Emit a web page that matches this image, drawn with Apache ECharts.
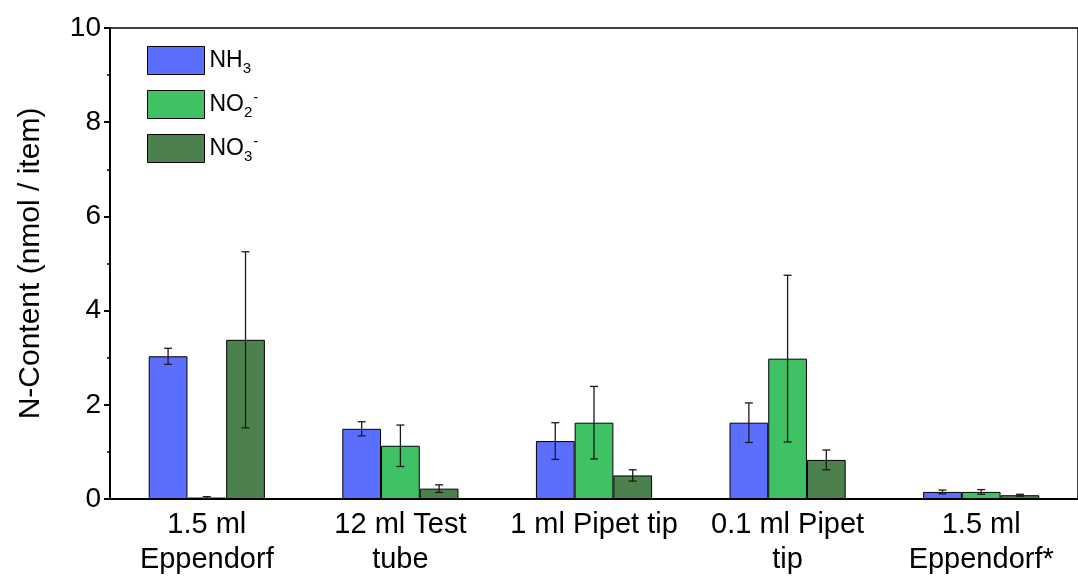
<!DOCTYPE html>
<html><head><meta charset="utf-8">
<script src="https://cdn.jsdelivr.net/npm/echarts@6/dist/echarts.min.js"></script>
<style>html,body{margin:0;padding:0;background:#fff}#c{width:1078px;height:577px}</style>
</head><body><div id="c"></div>
<script>
const categories = ['1.5 ml\nEppendorf', '12 ml Test\ntube', '1 ml Pipet tip', '0.1 ml Pipet\ntip', '1.5 ml\nEppendorf*'];
const nh3 = [3.03, 1.49, 1.23, 1.62, 0.15];
const no2 = [0.03, 1.13, 1.62, 2.98, 0.15];
const no3 = [3.38, 0.22, 0.50, 0.83, 0.08];
const nh3Err = [0.17, 0.15, 0.39, 0.42, 0.04];
const no2Err = [0.02, 0.44, 0.77, 1.77, 0.05];
const no3Err = [1.87, 0.08, 0.12, 0.21, 0.02];
const yTicks = [0, 2, 4, 6, 8, 10];

const names = ['NH3', 'NO2-', 'NO3-'];
const colors = ['#5b6efe', '#3ec263', '#4c804c'];
const values = [nh3, no2, no3];
const errs = [nh3Err, no2Err, no3Err];
const FONT = 'Liberation Sans, Arial, sans-serif';
const GAP = 0.4;

const series = [];
names.forEach((n, k) => {
  series.push({
    name: n, type: 'bar', data: values[k], barGap: '0%', barCategoryGap: '40%',
    itemStyle: { color: colors[k], borderColor: '#000', borderWidth: 1 }
  });
});
names.forEach((n, k) => {
  series.push({
    type: 'custom', silent: true, z: 10,
    data: values[k].map((v, i) => [i, v, errs[k][i]]),
    encode: { x: 0, y: 1 },
    renderItem: function (params, api) {
      const i = api.value(0), v = api.value(1), e = api.value(2);
      const band = api.size([1, 0])[0];
      const bw = band * (1 - GAP) / 3;
      const c = api.coord([i, v]);
      const x = c[0] + (k - 1) * bw;
      const yt = api.coord([i, v + e])[1];
      const yb = api.coord([i, v - e])[1];
      const h = 4;
      const st = { stroke: '#1a1a1a', lineWidth: 1.3 };
      return { type: 'group', children: [
        { type: 'line', shape: { x1: x, y1: yt, x2: x, y2: yb }, style: st },
        { type: 'line', shape: { x1: x - h, y1: yt, x2: x + h, y2: yt }, style: st },
        { type: 'line', shape: { x1: x - h, y1: yb, x2: x + h, y2: yb }, style: st }
      ]};
    }
  });
});

const chart = echarts.init(document.getElementById('c'));
chart.setOption({
  animation: false,
  grid: { left: 110, right: -12, top: 28, bottom: 77, show: true, borderColor: '#000', borderWidth: 1.5, backgroundColor: 'transparent' },
  legend: {
    data: names, orient: 'vertical', left: 142, top: 41, icon: 'rect',
    itemWidth: 57, itemHeight: 28, itemGap: 14, selectedMode: false,
    itemStyle: { borderColor: '#000', borderWidth: 1 },
    formatter: function (n) {
      if (n === 'NH3') return '{b|NH}{sub|3}';
      if (n === 'NO2-') return '{b|NO}{sub|2}{sup|-}';
      return '{b|NO}{sub|3}{sup|-}';
    },
    textStyle: {
      padding: [0, 0, 0, 0],
      rich: {
        b: { fontSize: 23, fontFamily: FONT, color: '#000', verticalAlign: 'middle' },
        sub: { fontSize: 15, fontFamily: FONT, color: '#000', padding: [16, 0, 0, 0] },
        sup: { fontSize: 15, fontFamily: FONT, color: '#000', padding: [0, 0, 14, 1] }
      }
    }
  },
  xAxis: {
    type: 'category', data: categories,
    axisLine: { lineStyle: { color: '#000', width: 2 } },
    axisTick: { alignWithLabel: true, length: 6, lineStyle: { color: '#000', width: 2 } },
    axisLabel: { color: '#000', fontSize: 29, fontFamily: FONT, lineHeight: 35, margin: 8, interval: 0 }
  },
  yAxis: {
    type: 'value', min: yTicks[0], max: yTicks[yTicks.length - 1], interval: 2,
    name: 'N-Content (nmol / item)', nameLocation: 'middle', nameGap: 64,
    nameTextStyle: { color: '#000', fontSize: 30, fontFamily: FONT },
    axisLine: { show: true, lineStyle: { color: '#000', width: 2 } },
    axisTick: { show: true, length: 6, lineStyle: { color: '#000', width: 2 } },
    minorTick: { show: true, splitNumber: 2, length: 3, lineStyle: { color: '#000', width: 1.5 } },
    splitLine: { show: false },
    axisLabel: { color: '#000', fontSize: 28, fontFamily: FONT, margin: 9 }
  },
  series: series
});
</script></body></html>
